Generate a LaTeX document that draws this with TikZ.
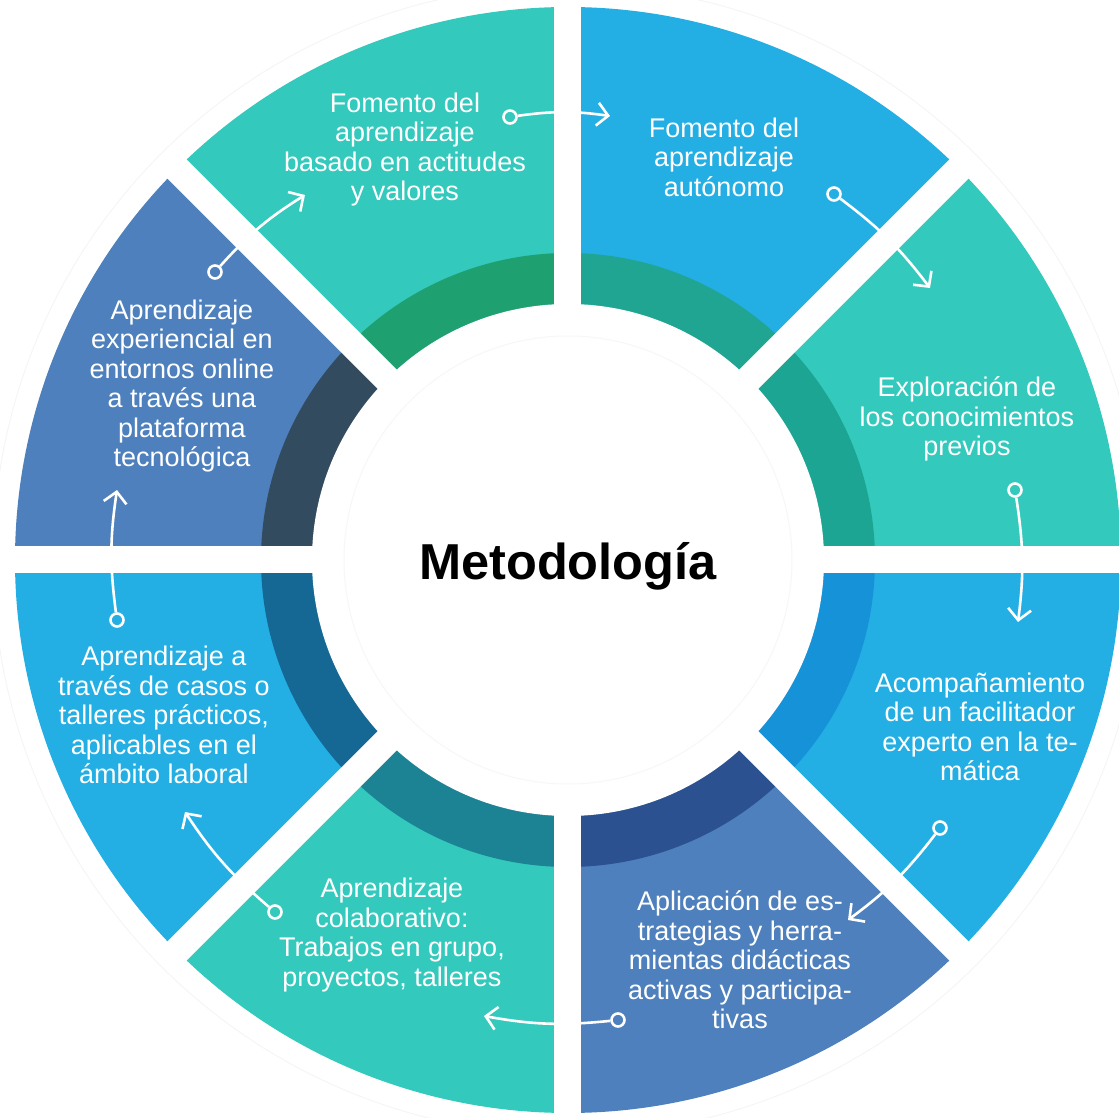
\documentclass[tikz,border=0pt]{standalone}
\usepackage{fontspec}
\setmainfont{Liberation Sans}
\usetikzlibrary{arrows.meta}
\definecolor{segteal}{HTML}{33C9BC}
\definecolor{segblue}{HTML}{23AFE4}
\definecolor{segslate}{HTML}{4D80BC}
\definecolor{ringa}{HTML}{1FA070}
\definecolor{ringb}{HTML}{1FA592}
\definecolor{ringc}{HTML}{1BA592}
\definecolor{ringd}{HTML}{1592D8}
\definecolor{ringe}{HTML}{2B5191}
\definecolor{ringf}{HTML}{1C8395}
\definecolor{ringg}{HTML}{156894}
\definecolor{ringh}{HTML}{334B5E}
\tikzset{
  lbl/.style={text=white, align=center, inner sep=0pt, font=\fontsize{27}{29.5}\selectfont},
  dot/.style={circle, draw=white, line width=2.6pt, minimum size=13pt, inner sep=0pt},
  arr/.style={draw=white, line width=2.6pt, -{Straight Barb[length=11pt,width=23pt]}, bend left=8},
}
\begin{document}
\begin{tikzpicture}[x=1pt,y=1pt]%Metodologia
\useasboundingbox (-568,-558) rectangle (551,560);
\draw [black!4, line width=1pt] (0,0) circle (575);
\foreach \a/\c/\r in {90/segteal/ringa, 45/segblue/ringb, 0/segteal/ringc, -45/segblue/ringd,
  -90/segslate/ringe, -135/segteal/ringf, 180/segblue/ringg, 135/segslate/ringh}
  {\fill [\c] (0,0) -- (\a:553) arc [start angle=\a, delta angle=45, radius=553] -- cycle;
   \fill [\r] (\a:307) arc [start angle=\a, delta angle=45, radius=307]
     -- (\a+45:254) arc [start angle=\a+45, delta angle=-45, radius=254] -- cycle;}
\foreach \a in {0,45,90,135} {\draw [white, line width=27pt] (\a:560) -- (\a+180:560);}
\fill [white] (0,0) circle (256);
\draw [black!3, line width=1pt] (0,0) circle (224);
\path {(0,-6) node[font=\bfseries\fontsize{50.5}{60}\selectfont] (title) {Metodología}
(-163,410.5) node[lbl] (t1) {Fomento del\\aprendizaje\\basado en actitudes\\y valores}
(156,403) node[lbl] (t2) {Fomento del\\aprendizaje\\autónomo}
(399,141) node[lbl] (t3) {Exploración de\\los conocimientos\\previos}
(412,-167) node[lbl] (t4) {Acompañamiento\\de un facilitador\\experto en la te-\\mática}
(172,-400) node[lbl] (t5) {Aplicación de es-\\trategias y herra-\\mientas didácticas\\activas y participa-\\tivas}
(-176,-375) node[lbl] (t6) {Aprendizaje\\colaborativo:\\Trabajos en grupo,\\proyectos, talleres}
(-404,-155) node[lbl] (t7) {Aprendizaje a\\través de casos o\\talleres prácticos,\\aplicables en el\\ámbito laboral}
(-386,174) node[lbl] (t8) {Aprendizaje\\experiencial en\\entornos online\\a través una\\plataforma\\tecnológica}};
% start dots and arrow ends
\path {(-58,443) node[dot] (d1) {} (42,444) coordinate (e1)
(266,366) node[dot] (d2) {} (362,272) coordinate (e2)
(447,70) node[dot] (d3) {} (450,-62) coordinate (e3)
(372,-268) node[dot] (d4) {} (280,-360) coordinate (e4)
(50,-460) node[dot] (d5) {} (-84,-456) coordinate (e5)
(-293,-352) node[dot] (d6) {} (-383,-252) coordinate (e6)
(-451,-60) node[dot] (d7) {} (-451,70) coordinate (e7)
(-353,288) node[dot] (d8) {} (-263,365) coordinate (e8)};
\foreach \i in {1,...,8} {\draw [arr] (d\i) to (e\i);}
\end{tikzpicture}
\end{document}
